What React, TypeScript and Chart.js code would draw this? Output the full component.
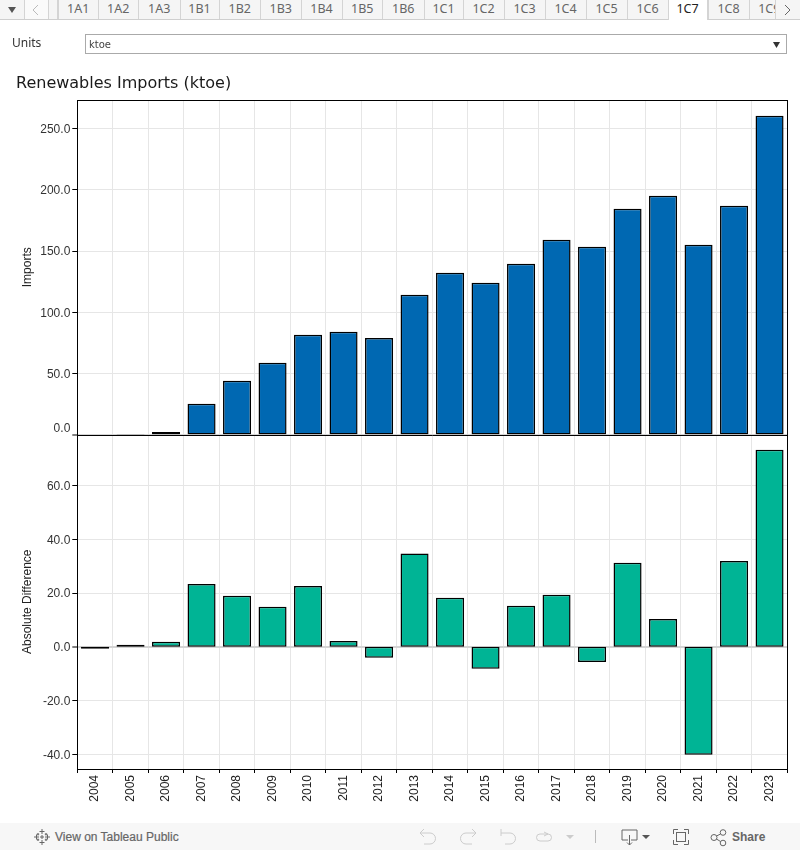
import React, { useEffect, useRef } from "react";
import { Chart, registerables } from "chart.js";

Chart.register(...registerables);

const years = ["2004","2005","2006","2007","2008","2009","2010","2011","2012","2013","2014","2015","2016","2017","2018","2019","2020","2021","2022","2023"];
const imports = [0.1,0.4,2.0,25.1,43.9,58.6,81.5,84.0,79.0,114.2,132.2,124.0,139.6,159.2,153.5,184.6,195.2,155.1,187.0,260.6];
const absoluteDifference = [-0.3,0.3,1.9,23.4,19.0,14.9,22.7,2.2,-4.1,34.8,18.3,-8.2,15.3,19.4,-5.6,31.3,10.4,-40.2,32.0,73.4];
const tabs = ["1A1","1A2","1A3","1B1","1B2","1B3","1B4","1B5","1B6","1C1","1C2","1C3","1C4","1C5","1C6","1C7","1C8","1C9"];
const tabEdges = [58,97.5,138,179.5,218.5,260,300.5,341.5,382,423.5,462.5,503.5,544.5,585.5,626.5,667.5,707.5,748.5,789];
const activeTab = "1C7";

const AXIS_FONT = "'Liberation Sans', Arial, sans-serif";
const UI_FONT = "'Noto Sans', 'Open Sans', sans-serif";

const framePlugin = {
  id: "frame",
  beforeDatasetsDraw(chart: any) {
    const { ctx, chartArea } = chart;
    ctx.save();
    ctx.strokeStyle = "#d4d4d4";
    ctx.lineWidth = 2;
    for (const id of ["yTop", "yBottom"]) {
      const y = Math.round(chart.scales[id].getPixelForValue(0));
      ctx.beginPath();
      ctx.moveTo(chartArea.left, y);
      ctx.lineTo(chartArea.right, y);
      ctx.stroke();
    }
    ctx.restore();
  },
  afterDatasetsDraw(chart: any) {
    const { ctx, chartArea } = chart;
    const mid = chart.scales.yTop.bottom;
    const l = Math.floor(chartArea.left) + 0.5;
    const r = Math.floor(chartArea.right) + 0.5;
    const t = Math.floor(chartArea.top) + 0.5;
    const b = Math.floor(chartArea.bottom) + 0.5;
    ctx.save();
    ctx.strokeStyle = "#000";
    ctx.lineWidth = 1;
    ctx.strokeRect(l, t, r - l, b - t);
    ctx.beginPath();
    ctx.moveTo(l, Math.round(mid) + 0.5);
    ctx.lineTo(r, Math.round(mid) + 0.5);
    ctx.stroke();
    ctx.restore();
  },
};

function yScale(title: string, min: number, max: number, step: number, liftZero: boolean) {
  return {
    type: "linear",
    stack: "panels",
    stackWeight: 1,
    min,
    max,
    position: "left",
    afterFit(s: any) { s.width = 77.3; },
    title: { display: true, text: title, color: "#222", font: { family: AXIS_FONT, size: 12 }, padding: { top: 20, bottom: 0 } },
    ticks: {
      stepSize: step,
      includeBounds: false,
      padding: 2,
      labelOffset: 1,
      color: "#333",
      font: { family: AXIS_FONT, size: 12 },
      callback: (v: number) => (liftZero && v === 0 ? ["0.0", ""] : Number(v).toFixed(1)),
    },
    grid: {
      color: "#e6e6e6",
      lineWidth: (c: any) => (c.tick && c.tick.value === 0 ? 0 : 1),
      tickColor: "#000",
      tickWidth: 1,
      tickLength: 5,
    },
    border: { color: "#000", width: 1 },
  };
}

function Caret({ x, y, color = "#555", w = 9 }: any) {
  return (
    <svg style={{ position: "absolute", left: x, top: y }} width={w} height={6}>
      <path d={`M0 0H${w}L${w / 2} 6Z`} fill={color} />
    </svg>
  );
}

function Label({ x, y, text, style }: any) {
  return <div style={{ position: "absolute", left: x, top: y, whiteSpace: "nowrap", ...style }}>{text}</div>;
}

export default function App() {
  const ref = useRef<HTMLCanvasElement>(null);
  useEffect(() => {
    const chart = new Chart(ref.current as any, {
      type: "bar",
      plugins: [framePlugin],
      data: {
        labels: years,
        datasets: [
          { label: "Imports", data: imports, yAxisID: "yTop", backgroundColor: "#0068b2", borderColor: "#000", borderWidth: 1.5, borderSkipped: false, grouped: false, barPercentage: 0.79, categoryPercentage: 1 },
          { label: "Absolute Difference", data: absoluteDifference, yAxisID: "yBottom", backgroundColor: "#00b495", borderColor: "#000", borderWidth: 1.5, borderSkipped: false, grouped: false, barPercentage: 0.79, categoryPercentage: 1, minBarLength: 2 },
        ],
      } as any,
      options: {
        animation: false,
        responsive: false,
        layout: { padding: { left: 0, right: 12.7, top: 100, bottom: 0 } },
        plugins: { legend: { display: false }, title: { display: false }, tooltip: { enabled: false } },
        scales: {
          x: {
            type: "category",
            offset: true,
            afterFit(s: any) { s.height = 81; },
            ticks: { minRotation: 90, maxRotation: 90, autoSkip: false, padding: 2, color: "#222", font: { family: AXIS_FONT, size: 12 } },
            grid: { color: "#e6e6e6", lineWidth: 1, tickColor: "#000", tickLength: 4, offset: true },
            border: { color: "#000", width: 1 },
          },
          yBottom: yScale("Absolute Difference", -45.5, 79.1, 20, false),
          yTop: yScale("Imports", 0, 273.55, 50, true),
        },
      } as any,
    });
    return () => chart.destroy();
  }, []);

  return (
    <div style={{ position: "absolute", left: 0, top: 0, width: 800, height: 850, overflow: "hidden", background: "#fff", fontFamily: UI_FONT }}>
      <canvas ref={ref} width={800} height={850} style={{ position: "absolute", left: 0, top: 0 }} />

      {/* tab strip */}
      <div style={{ position: "absolute", left: 0, top: 0, width: 800, height: 19, background: "#f5f5f5", borderBottom: "1px solid #cfcfcf" }} />
      {tabs.map((t, i) => {
        const active = t === activeTab;
        return (
          <div key={t} style={{
            position: "absolute", left: tabEdges[i], top: 0, width: tabEdges[i + 1] - tabEdges[i], height: active ? 20 : 19,
            boxSizing: "border-box", borderLeft: "1px solid #d4d4d4", background: active ? "#fff" : "#f5f5f5",
            borderRight: active ? "1px solid #d4d4d4" : "none",
            textAlign: "center", fontSize: 12.5, lineHeight: "18px", color: active ? "#222" : "#666",
          }}>{t}</div>
        );
      })}
      <div style={{ position: "absolute", left: 0, top: 0, width: 25, height: 19, background: "#f5f5f5", borderRight: "1px solid #d4d4d4", boxSizing: "border-box" }} />
      <Caret x={8} y={7} color="#555" w={8} />
      <div style={{ position: "absolute", left: 25, top: 0, width: 24, height: 19, background: "#fafafa", borderRight: "1px solid #d4d4d4", boxSizing: "border-box" }} />
      <svg style={{ position: "absolute", left: 32, top: 4 }} width={8} height={12}><path d="M6 1L1 6L6 11" fill="none" stroke="#bbb" /></svg>
      <div style={{ position: "absolute", left: 49, top: 0, width: 9, height: 19, borderRight: "1px solid #d4d4d4", background: "#f5f5f5", boxSizing: "border-box" }} />
      <div style={{ position: "absolute", left: 775, top: 0, width: 25, height: 20, boxSizing: "border-box", background: "#f5f5f5", borderLeft: "1px solid #d4d4d4", borderBottom: "1px solid #cfcfcf" }} />
      <svg style={{ position: "absolute", left: 783, top: 4 }} width={8} height={12}><path d="M2 1L7 6L2 11" fill="none" stroke="#666" /></svg>

      {/* filter */}
      <Label x={12} y={34} text="Units" style={{ fontSize: 12, lineHeight: "18px", color: "#333" }} />
      <div style={{ position: "absolute", left: 85, top: 34, width: 702, height: 20, boxSizing: "border-box", border: "1px solid #aaa" }} />
      <Label x={89} y={36} text="ktoe" style={{ fontSize: 10, lineHeight: "17px", color: "#444", fontFamily: "'DejaVu Sans', sans-serif" }} />
      <Caret x={773} y={42} color="#333" w={7} />

      {/* title */}
      <Label x={16} y={73} text="Renewables Imports (ktoe)" style={{ fontSize: 16, lineHeight: "20px", color: "#1a1a1a", fontFamily: "'DejaVu Sans', sans-serif" }} />

      {/* footer */}
      <div style={{ position: "absolute", left: 0, top: 823, width: 800, height: 27, background: "#f7f7f7" }} />
      <svg style={{ position: "absolute", left: 33, top: 828 }} width={18} height={18} stroke="#666" fill="none">
        <path d="M9 1v5M6.5 3.5h5M9 12v5M6.5 14.5h5M1 9h5M3.5 6.5v5M12 9h5M14.5 6.5v5M5 5v2.500M3.800 6.200h2.400M13 5v2.500M11.800 6.200h2.400M5 10.500V13M3.800 11.800h2.400M13 10.500V13M11.800 11.800h2.400M9 7v4M7 9h4" />
      </svg>
      <Label x={55} y={829} text="View on Tableau Public" style={{ fontSize: 12, lineHeight: "16px", color: "#666", fontFamily: AXIS_FONT, WebkitTextStroke: "0.2px #666" }} />
      <svg style={{ position: "absolute", left: 415, top: 826 }} width={385} height={22} fill="none">
        <g stroke="#ccc" strokeWidth={1}>
          <path d="M9 3L5 7L9 11M5 7H15A5.500 5.500 0 0 1 15 18H9" />
          <path d="M57 3L61 7L57 11M61 7H51A5.500 5.500 0 0 0 51 18H57" />
          <path d="M86 3V10M86 7H95A5.500 5.500 0 0 1 95 18H90" />
          <path d="M125 8H133A3.500 3.500 0 0 1 133 15H125A3.500 3.500 0 0 1 125 8ZM129 6L133 8L129 10" />
        </g>
        <path d="M151 9H159L155 13Z" fill="#ccc" />
        <path d="M180.500 4V17" stroke="#bbb" />
        <g stroke="#666" strokeWidth={1}>
          <path d="M213 14H207V4H222V14H216M214.500 9V19M212 16.500L214.500 19L217 16.500" />
          <path d="M258.500 8V3.500H263M269 3.500H273.500V8M273.500 14V18.500H269M263 18.500H258.500V14" />
          <rect x={261.500} y={6.500} width={9} height={9} />
          <circle cx={299} cy={11.500} r={3} />
          <circle cx={308} cy={6.500} r={2.800} />
          <circle cx={308} cy={17} r={2.800} />
          <path d="M301.500 10L305.500 8M301.500 13L305.500 15.500" />
        </g>
        <path d="M227 9H235L231 13Z" fill="#555" />
      </svg>
      <Label x={732} y={829} text="Share" style={{ fontSize: 12, lineHeight: "16px", color: "#666", fontFamily: AXIS_FONT, fontWeight: 700 }} />
    </div>
  );
}
